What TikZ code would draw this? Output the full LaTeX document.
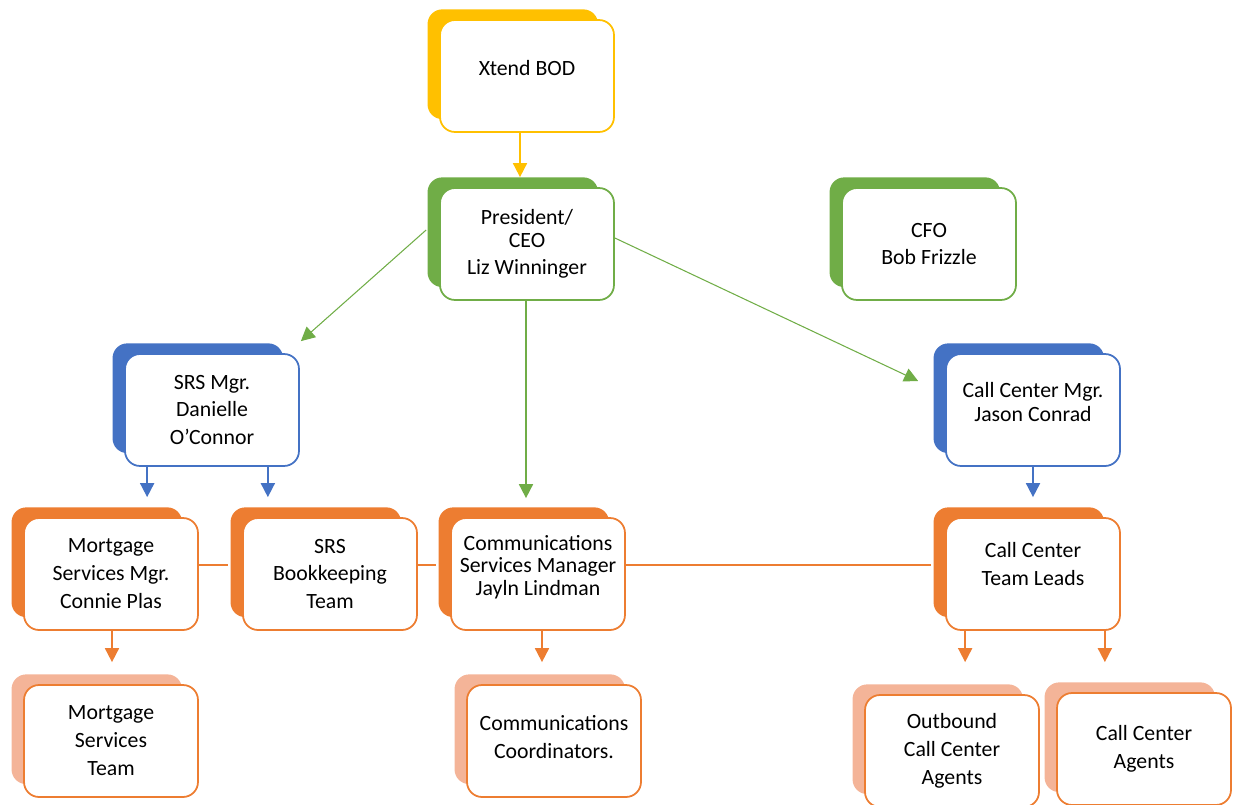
\documentclass[tikz,border=0pt]{standalone}
\usepackage{fontspec}
\setmainfont{Carlito}
\usetikzlibrary{
    arrows.meta,
    calc,
    shadows,
    positioning
}
\definecolor{bodyel}{HTML}{FFC000}
\definecolor{mgrgrn}{HTML}{70AD47}
\definecolor{leadblu}{HTML}{4472C4}
\definecolor{teamorg}{HTML}{ED7D31}
\definecolor{stafflt}{HTML}{F4B498}
\tikzset{card/.style={draw=#1, fill=white, rounded corners=0.3cm, line width=1pt,
    minimum width=3.48cm, minimum height=2.24cm, align=center,
    font=\fontsize{12.4}{15.9}\selectfont}}
\tikzset{backed/.style={general shadow={fill=#1, shadow xshift=-0.29cm, shadow yshift=0.24cm, shadow scale=0.98}}}
\tikzset{link/.style={draw=#1, line width=1pt, -{Triangle[width=0.28cm,length=0.28cm]}}}

\begin{document}
\begin{tikzpicture}[x=0.02cm, y=-0.02cm]
                        \useasboundingbox (0, 0) rectangle (1233, 804);

                        \node[card=bodyel, backed=bodyel] (bod) at (527, 76) {Xtend BOD\\[-0.24cm]};
                        \node[card=mgrgrn, backed=mgrgrn] (ceo) at (527, 244) {President/\\[-3pt]CEO\\Liz Winninger};
                        \node[card=mgrgrn, backed=mgrgrn] (cfo) at (929, 244) {CFO\\[-1pt]Bob Frizzle};
                        \node[card=leadblu, backed=leadblu] (srs) at (212, 410) {SRS Mgr.\\Danielle\\O'Connor};
                        \node[card=leadblu, backed=leadblu] (ccm) at (1033, 410) {Call Center Mgr.\\[-2pt]Jason Conrad\\[-0.24cm]};
                        \node[card=teamorg, backed=teamorg] (msm) at (111, 574) {Mortgage\\Services Mgr.\\Connie Plas};
                        \node[card=teamorg, backed=teamorg] (bkt) at (330, 574) {SRS\\Bookkeeping\\Team};
                        \node[card=teamorg, backed=teamorg, font=\fontsize{12.4}{12.8}\selectfont] (csm) at (538, 574) {Communications\\Services Manager\\Jayln Lindman\\[-0.09cm]};
                        \node[card=teamorg, backed=teamorg] (cctl) at (1033, 574) {Call Center\\Team Leads\\[-0.16cm]};
                        \node[card=teamorg, backed=stafflt] (mst) at (111, 741) {Mortgage\\Services\\Team};
                        \node[card=teamorg, backed=stafflt] (cco) at (554, 741) {Communications\\Coordinators.\\[-0.4cm]};
                        \node[card=teamorg, backed=stafflt] (oca) at (952, 751) {Outbound\\Call Center\\Agents};
                        \node[card=teamorg, backed=stafflt] (cca) at (1144, 749) {Call Center\\Agents};

                        % top of the chart
                        \draw[link=bodyel]
                        ($(bod.south)+(-7,0)$) -- ($(bod.south |- ceo.north)+(-7,-10)$);
                        \draw[link=mgrgrn, line width=0.6pt]
                        ($(ceo.west)+(-13,-14)$) -- ($(srs.north east)+(1,-12)$);
                        \draw[link=mgrgrn, line width=0.6pt]
                        ($(ceo.east)+(0,-6)$) -- ($(ccm.west)+(-27,-29)$);
                        \draw[link=mgrgrn]
                        ($(ceo.south)+(-1,0)$) -- ($(ceo.south |- csm.north)+(-1,-19)$);

                        % managers to teams
                        \draw[link=leadblu]
                        ($(srs.south west)+(23,0)$) -- ($(srs.south west |- msm.north)+(23,-20)$);
                        \draw[link=leadblu]
                        ($(srs.south east)+(-32,0)$) -- ($(srs.south east |- bkt.north)+(-32,-20)$);
                        \draw[link=leadblu, shorten >=0.4cm] (ccm.south) -- (cctl.north);

                        \draw[teamorg, line width=0.8pt]
                        ($(msm.east)+(0,-9)$) -- ($(bkt.west)+(-14,-9)$)
                        ($(bkt.east)+(0,-9)$) -- ($(csm.west)+(-14,-9)$)
                        ($(csm.east)+(0,-9)$) -- ($(cctl.west)+(-14,-9)$);

                        \draw[link=teamorg]
                        ($(msm.south)+(1,0)$) -- ($(msm.south |- mst.north)+(1,-22)$);
                        \draw[link=teamorg]
                        ($(csm.south)+(4,0)$) -- ($(csm.south |- cco.north)+(4,-22)$);
                        \draw[link=teamorg]
                        ($(cctl.south west)+(20,0)$) -- ($(cctl.south west |- oca.north)+(20,-32)$);
                        \draw[link=teamorg]
                        ($(cctl.south east)+(-16,0)$) -- ($(cctl.south east |- cca.north)+(-16,-30)$);
                    \end{tikzpicture}
\end{document}
